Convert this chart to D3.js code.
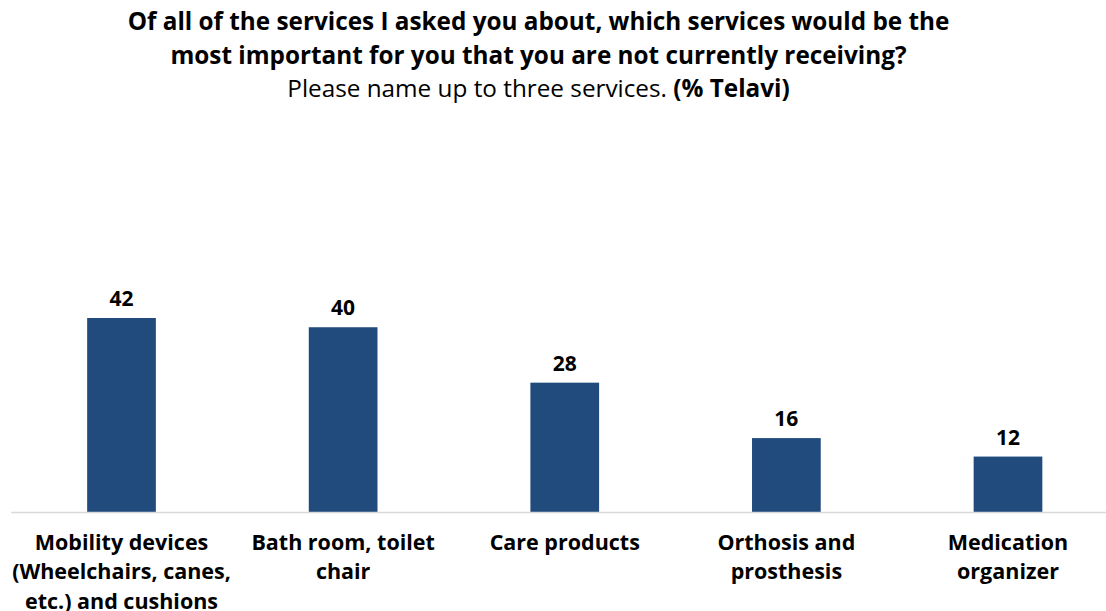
<!DOCTYPE html>
<html>
<head>
<meta charset="utf-8">
<script src="https://cdn.jsdelivr.net/npm/d3@7/dist/d3.min.js"></script>
<style>
  html, body { margin: 0; padding: 0; background: #fff; }
  svg { display: block; font-family: "Open Sans", "Noto Sans", sans-serif; }
</style>
</head>
<body>
<svg id="chart" width="1106" height="611"></svg>
<script>
// Services most wanted but not currently received (% Telavi)
const categories = [
  ["Mobility devices", "(Wheelchairs, canes,", "etc.) and cushions"],
  ["Bath room, toilet", "chair"],
  ["Care products"],
  ["Orthosis and", "prosthesis"],
  ["Medication", "organizer"]
];
const values = [42, 40, 28, 16, 12];

const titleLines = [
  "Of all of the services I asked you about, which services would be the",
  "most important for you that you are not currently receiving?"
];
const subtitle = "Please name up to three services. ";
const subtitleBold = "(% Telavi)";

const svg = d3.select("#chart");

const baseline = 512;
const x = d3.scaleBand()
  .domain(d3.range(categories.length))
  .range([10.7, 1118.8])
  .paddingInner(0.69)
  .paddingOuter(0.345);

const y = d3.scaleLinear()
  .domain([0, 42])
  .range([baseline, 318]);

// Title
const title = svg.append("g").attr("text-anchor", "middle");
titleLines.forEach((t, i) => {
  title.append("text")
    .attr("x", 538.5).attr("y", 30 + i * 34)
    .attr("font-size", 24.3).attr("font-weight", 700).attr("fill", "#000")
    .text(t);
});
const sub = title.append("text")
  .attr("x", 538.5).attr("y", 97)
  .attr("font-size", 24.3).attr("fill", "#000");
sub.append("tspan").text(subtitle);
sub.append("tspan").attr("font-weight", 700).text(subtitleBold);

// Bars
svg.append("g").selectAll("rect")
  .data(values)
  .join("rect")
  .attr("x", (d, i) => x(i))
  .attr("width", x.bandwidth())
  .attr("y", d => y(d))
  .attr("height", d => baseline - y(d))
  .attr("fill", "#214a7d");

// Value labels
svg.append("g").attr("text-anchor", "middle").selectAll("text")
  .data(values)
  .join("text")
  .attr("x", (d, i) => x(i) + x.bandwidth() / 2)
  .attr("y", d => y(d) - 12)
  .attr("font-size", 21).attr("font-weight", 700).attr("fill", "#000")
  .text(d => d);

// Category axis
const axis = svg.append("g")
  .attr("transform", `translate(0,${baseline})`)
  .call(d3.axisBottom(x).tickSize(0).tickFormat(""));
axis.select(".domain").attr("stroke", "#d9d9d9").attr("stroke-width", 1.3);

const labels = svg.append("g").attr("text-anchor", "middle");
categories.forEach((lines, i) => {
  const cx = x(i) + x.bandwidth() / 2;
  const t = labels.append("text")
    .attr("x", cx)
    .attr("y", 549.5)
    .attr("font-size", 21.5).attr("font-weight", 700).attr("fill", "#000");
  lines.forEach((l, j) => {
    t.append("tspan").attr("x", cx).attr("dy", j === 0 ? 0 : 29.5).text(l);
  });
});
</script>
</body>
</html>
